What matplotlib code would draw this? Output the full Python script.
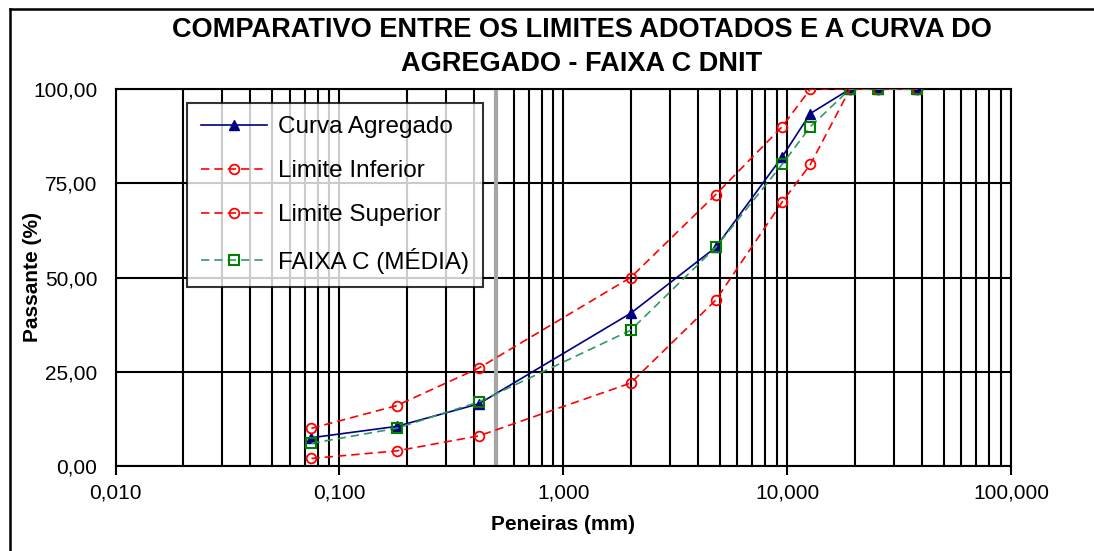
import matplotlib
matplotlib.use("Agg")
import matplotlib.pyplot as plt
from matplotlib.ticker import FixedLocator, FuncFormatter, LogLocator, NullFormatter
from matplotlib.lines import Line2D

plt.rcParams['font.family'] = ['Liberation Sans', 'DejaVu Sans']

# ---- data ----
peneiras = [0.075, 0.18, 0.42, 2.0, 4.8, 9.5, 12.7, 19.1, 25.4, 38.1]
curva_agregado = [7.5, 10.5, 16.5, 40.5, 58.0, 82.0, 93.5, 100, 100, 100]
limite_inferior = [2, 4, 8, 22, 44, 70, 80, 100, 100, 100]
limite_superior = [10, 16, 26, 50, 72, 90, 100, 100, 100, 100]
faixa_c_media = [6, 10, 17, 36, 58, 80, 90, 100, 100, 100]
linha_referencia = 0.5

title = "COMPARATIVO ENTRE OS LIMITES ADOTADOS E A CURVA DO\nAGREGADO - FAIXA C DNIT"
xlabel = "Peneiras (mm)"
ylabel = "Passante (%)"
yticks = [0, 25, 50, 75, 100]
xticks = [0.01, 0.1, 1, 10, 100]

W, H = 1094, 551
fig = plt.figure(figsize=(W / 100, H / 100), dpi=100)
ax = fig.add_axes([115.5 / W, (H - 466) / H, 895.5 / W, 377 / H])

ax.set_xscale('log')
ax.set_xlim(0.01, 100)
ax.set_ylim(0, 100)

ax.xaxis.set_major_locator(FixedLocator(xticks))
ax.xaxis.set_minor_locator(LogLocator(base=10, subs=[2, 3, 4, 5, 6, 7, 8, 9]))
ax.xaxis.set_minor_formatter(NullFormatter())
ax.xaxis.set_major_formatter(FuncFormatter(lambda v, p: f"{v:.3f}".replace('.', ',')))
ax.yaxis.set_major_locator(FixedLocator(yticks))
ax.yaxis.set_major_formatter(FuncFormatter(lambda v, p: f"{v:.2f}".replace('.', ',')))

ax.grid(which='both', axis='x', color='black', lw=1.5, zorder=1)
ax.grid(which='major', axis='y', color='black', lw=1.5, zorder=1)
ax.set_axisbelow(True)
ax.tick_params(axis='x', which='major', length=6.5, width=1.5, direction='out', pad=6, labelsize=15)
ax.tick_params(axis='x', which='minor', length=0)
ax.tick_params(axis='y', which='both', length=0, pad=13, labelsize=15)
for s in ax.spines.values():
    s.set_linewidth(1.5)
    s.set_color('black')

ax.axvline(linha_referencia, color='#a6a6a6', lw=3, zorder=2)

dash = (0, (5, 3))
ax.plot(peneiras, curva_agregado, color='#000080', lw=1.2, marker='^', ms=6.5,
        mfc='#000080', mec='#000080', label='Curva Agregado', zorder=3)
ax.plot(peneiras, limite_inferior, color='#ff0000', lw=1.2, ls=dash, marker='o', ms=7,
        mfc='none', mec='#ff0000', mew=1.3, label='Limite Inferior', zorder=3)
ax.plot(peneiras, limite_superior, color='#ff0000', lw=1.2, ls=dash, marker='o', ms=7,
        mfc='none', mec='#ff0000', mew=1.3, label='Limite Superior', zorder=3)
ax.plot(peneiras, faixa_c_media, color='#339966', lw=1.2, ls=dash, marker='s', ms=7.5,
        mfc='none', mec='#008000', mew=1.5, label='FAIXA C (MÉDIA)', zorder=3)

leg = ax.legend(loc='upper left', bbox_to_anchor=(0.08, 0.963), borderaxespad=0,
                fontsize=17.5, frameon=True, fancybox=False, edgecolor='black',
                handlelength=2.75, handletextpad=0.45, labelspacing=0.9,
                borderpad=0.55)
leg.get_frame().set_linewidth(1.5)
leg.set_zorder(5)

ax.set_xlabel(xlabel, fontsize=15, fontweight='bold', labelpad=9)
ax.set_ylabel(ylabel, fontsize=15, fontweight='bold', labelpad=-6)

fig.text(582 / W, 1 - 47 / H, title, ha='center', va='center', fontsize=19.5,
         fontweight='bold', linespacing=1.42)

# outer chart border
fig.add_artist(Line2D([10 / W, 10 / W], [0, 1 - 9 / H], transform=fig.transFigure,
                      color='black', lw=1.8))
fig.add_artist(Line2D([10 / W, 1], [1 - 9 / H, 1 - 9 / H], transform=fig.transFigure,
                      color='black', lw=1.8))

fig.savefig('out.png', dpi=100, facecolor='white')
